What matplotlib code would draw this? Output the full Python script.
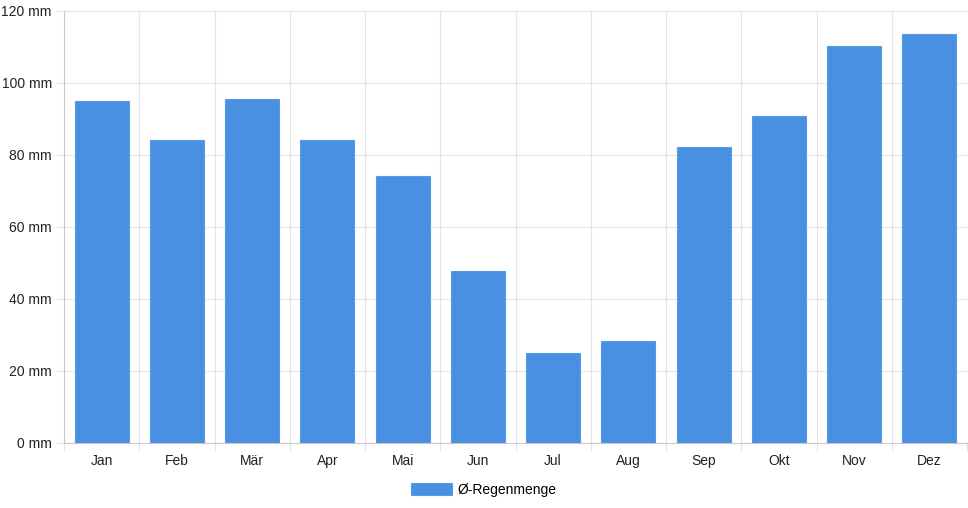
import matplotlib.pyplot as plt
import numpy as np

months = ["Jan", "Feb", "Mär", "Apr", "Mai", "Jun", "Jul", "Aug", "Sep", "Okt", "Nov", "Dez"]
rain_mm = [95.0, 84.2, 95.6, 84.2, 74.2, 47.8, 25.0, 28.3, 82.2, 90.8, 110.3, 113.7]
y_ticks = [0, 20, 40, 60, 80, 100, 120]
series_label = "Ø-Regenmenge"

plt.rcParams["font.family"] = ["Liberation Sans", "DejaVu Sans"]

fig = plt.figure(figsize=(9.68, 5.08), dpi=100)
ax = fig.add_axes([64 / 968, 65 / 508, 903 / 968, 432 / 508])

x = np.arange(len(months))
bars = ax.bar(x, rain_mm, width=0.72, color="#4a90e2", edgecolor="#5b9be6",
              linewidth=0.8, label=series_label, zorder=3)

grid_col = "#e3e3e3"
axis_col = "#c8c8c8"

ax.set_xlim(-0.5, len(months) - 0.5)
ax.set_ylim(0, 120)

# vertical lines between categories, like the original
for b in np.arange(0.5, len(months) - 0.5, 1.0):
    ax.axvline(b, color=grid_col, linewidth=0.8, zorder=1)
for v in y_ticks[1:]:
    ax.axhline(v, color=grid_col, linewidth=0.8, zorder=1)

ax.set_yticks(y_ticks)
ax.set_yticklabels([f"{v} mm" for v in y_ticks])
ax.set_xticks(x)
ax.set_xticklabels(months)
ax.set_xticks(np.arange(-0.5, len(months)), minor=True)

ax.tick_params(axis="x", which="major", length=0, pad=8, labelsize=10, labelcolor="#222222")
ax.tick_params(axis="x", which="minor", length=5.5, color=grid_col, width=0.8)
ax.tick_params(axis="y", length=5.8, color=grid_col, width=0.8, pad=3, labelsize=10,
               labelcolor="#222222")

for side in ["top", "right"]:
    ax.spines[side].set_visible(False)
ax.spines["left"].set_color(axis_col)
ax.spines["bottom"].set_color(axis_col)
ax.spines["left"].set_linewidth(0.8)
ax.spines["bottom"].set_linewidth(0.8)

fig.legend(handles=[bars], labels=[series_label], loc="center", bbox_to_anchor=(0.5, 18 / 508),
           frameon=False, fontsize=10, handlelength=2.9, handleheight=1.0, handletextpad=0.45)

fig.savefig("out.png", dpi=100)
